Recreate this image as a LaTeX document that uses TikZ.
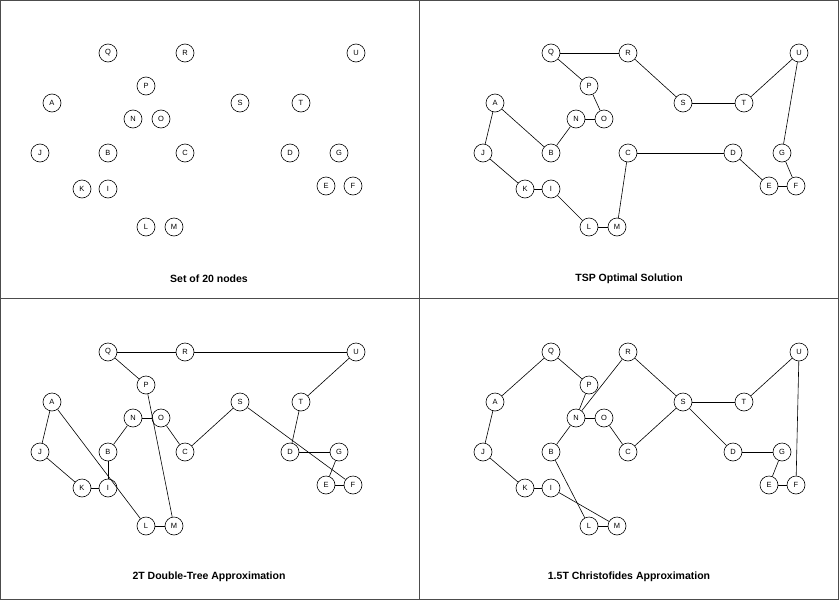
\documentclass[tikz,border=0pt]{standalone}
\usepackage{fontspec}
\setmainfont{Liberation Sans}
\begin{document}
\begin{tikzpicture}[x=1pt,y=-1pt,
  vtx/.style={circle,draw,line width=0.6pt,minimum size=18pt,inner sep=0pt,font=\fontsize{7.5}{8}\selectfont},
  edge/.style={line width=0.6pt},
  ttl/.style={font=\bfseries\fontsize{10.5}{12}\selectfont},
  frame/.style={draw=black!70,line width=0.8pt}]
\useasboundingbox (0,0) rectangle (839,600);
\draw[frame] (0.5,0.5) rectangle (838.5,599.5);
\draw[frame] (419.5,0) -- (419.5,600);
\draw[frame] (0,298.5) -- (839,298.5);
\foreach \p/\dx/\dy in {a/0/0,b/443/0,c/0/299,d/443/299}{
  \foreach \n/\x/\y in {Q/108/53,R/185/53,U/356/53,P/146/86,A/52/103,S/240/103,T/301/103,N/133/119,O/161/119,J/40/153,B/108/153,C/185/153,D/290/153,G/339/153,K/82/189,I/108/189,E/326/186,F/353/186,L/146/227,M/174/227}{
    \node[vtx] (\p\n) at (\x+\dx,\y+\dy) {\n};
  }
}
\node[ttl] (t1) at (209,279) {Set of 20 nodes};
\node[ttl] (t2) at (629,279) {TSP Optimal Solution};
\node[ttl] (t3) at (209,577) {2T Double-Tree Approximation};
\node[ttl] (t4) at (629,577) {1.5T Christofides Approximation};
\foreach \u/\v in {Q/R,R/S,S/T,T/U,U/G,G/F,F/E,E/D,D/C,C/M,M/L,L/I,I/K,K/J,J/A,A/B,B/N,N/O,O/P,P/Q}
  \draw[edge] (b\u) -- (b\v);
\foreach \u/\v in {Q/R,R/U,Q/P,P/M,M/L,L/A,A/J,J/K,K/I,I/B,B/N,N/O,O/C,C/S,S/F,F/E,E/G,G/D,D/T,T/U}
  \draw[edge] (c\u) -- (c\v);
\foreach \u/\v in {Q/A,A/J,J/K,K/I,I/M,M/L,L/B,B/N,N/R,R/S,S/T,T/U,U/F,F/E,E/G,G/D,D/S,S/C,C/O,O/N,N/P,P/Q}
  \draw[edge] (d\u) -- (d\v);
\end{tikzpicture}
\end{document}
